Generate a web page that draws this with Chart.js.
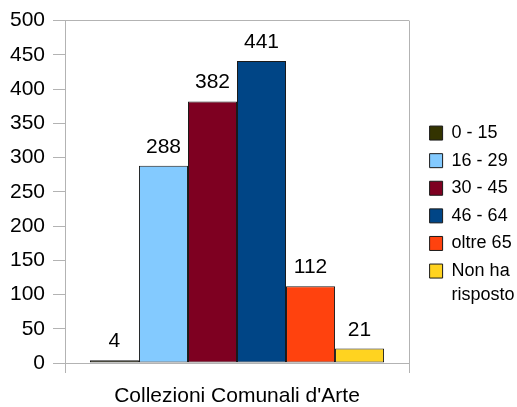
<!DOCTYPE html>
<html>
<head>
<meta charset="utf-8">
<script src="https://cdn.jsdelivr.net/npm/chart.js@4.4.1/dist/chart.umd.min.js"></script>
<style>
  html, body { margin: 0; padding: 0; background: #fff; }
  canvas { display: block; }
</style>
</head>
<body>
<canvas id="chart" width="517" height="407"></canvas>
<script>
const categories = ["Collezioni Comunali d'Arte"];
const seriesNames = ['0 - 15', '16 - 29', '30 - 45', '46 - 64', 'oltre 65', ['Non ha', 'risposto']];
const seriesValues = [4, 288, 382, 441, 112, 21];
const seriesColors = ['#333300', '#83caff', '#7e0021', '#004586', '#ff420e', '#ffd320'];
const yTicks = [0, 50, 100, 150, 200, 250, 300, 350, 400, 450, 500];

const FONT = "'Liberation Sans', Arial, sans-serif";
const AXIS_GRAY = '#b3b3b3';

// scrive il valore sopra ogni barra
const valueLabels = {
    id: 'valueLabels',
    afterDatasetsDraw(chart) {
        const ctx = chart.ctx;
        ctx.save();
        ctx.font = '21px ' + FONT;
        ctx.fillStyle = '#000';
        ctx.textAlign = 'center';
        ctx.textBaseline = 'alphabetic';
        chart.data.datasets.forEach((ds, i) => {
            chart.getDatasetMeta(i).data.forEach((bar, j) => {
                ctx.fillText(String(ds.data[j]), bar.x, bar.y - 13);
            });
        });
        ctx.restore();
    }
};

const datasets = seriesNames.map((name, i) => ({
    label: name,
    data: [seriesValues[i]],
    backgroundColor: seriesColors[i],
    borderColor: '#1a1a1a',
    borderWidth: 1,
    borderSkipped: false,
    yAxisID: 'y'
}));

new Chart(document.getElementById('chart').getContext('2d'), {
    type: 'bar',
    data: { labels: categories, datasets: datasets },
    options: {
        responsive: false,
        animation: false,
        categoryPercentage: 0.855,
        barPercentage: 1,
        layout: { padding: { top: 20, left: 10, right: 0, bottom: 0 } },
        plugins: {
            tooltip: { enabled: false },
            legend: {
                position: 'right',
                maxWidth: 97,
                title: { display: true, text: ' ', font: { size: 5, lineHeight: 1 }, padding: 1 },
                labels: {
                    boxWidth: 13,
                    boxHeight: 14,
                    padding: 9.6,
                    color: '#000',
                    font: { family: FONT, size: 18, lineHeight: 1.33 }
                }
            }
        },
        scales: {
            x: {
                afterFit: scale => { scale.height = 44; },
                grid: {
                    offset: true,
                    color: AXIS_GRAY,
                    tickLength: 10,
                    drawOnChartArea: true
                },
                border: { color: AXIS_GRAY },
                ticks: {
                    color: '#000',
                    padding: 13,
                    maxRotation: 0,
                    autoSkip: false,
                    font: { family: FONT, size: 21, lineHeight: 1 }
                }
            },
            y: {
                min: 0,
                max: 500,
                afterFit: scale => { scale.width = 55; },
                afterBuildTicks: scale => { scale.ticks = yTicks.map(v => ({ value: v })); },
                grid: {
                    color: c => (c.tick && (c.tick.value === 500 || c.tick.value === 0)) ? AXIS_GRAY : 'rgba(0,0,0,0)',
                    tickColor: AXIS_GRAY,
                    tickLength: 12
                },
                border: { color: AXIS_GRAY },
                ticks: {
                    color: '#000',
                    padding: 8,
                    font: { family: FONT, size: 21 }
                }
            },
            gap: {
                position: 'right',
                display: true,
                grid: { display: false },
                border: { display: false },
                ticks: { display: false },
                afterFit: scale => { scale.width = 11; }
            }
        }
    },
    plugins: [valueLabels]
});
</script>
</body>
</html>
